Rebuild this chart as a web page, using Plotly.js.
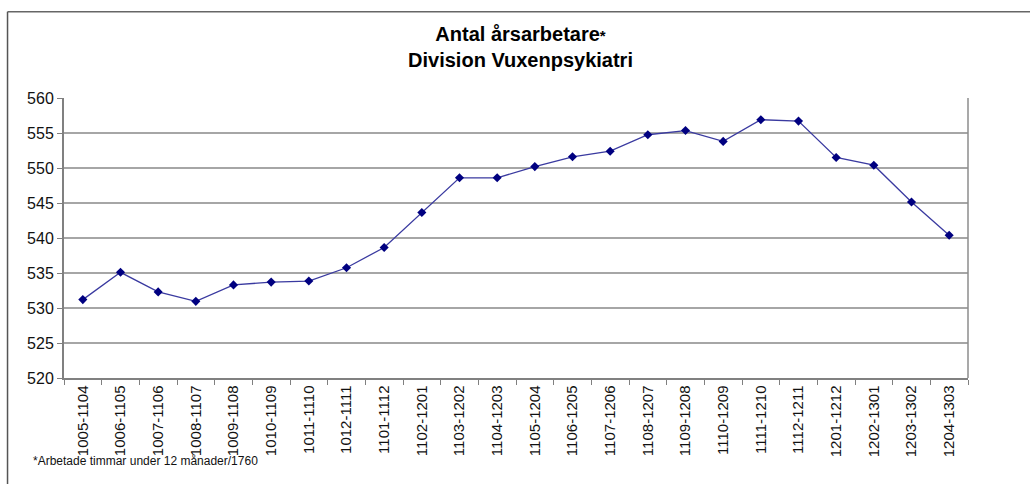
<!DOCTYPE html>
<html>
<head>
<meta charset="utf-8">
<script src="https://cdn.plot.ly/plotly-3.0.1.min.js"></script>
<style>html,body{margin:0;padding:0;background:#fff;}#chart{width:1030px;height:484px;}</style>
</head>
<body>
<div id="chart"></div>
<script>
const categories = ["1005-1104","1006-1105","1007-1106","1008-1107","1009-1108","1010-1109","1011-1110","1012-1111","1101-1112","1102-1201","1103-1202","1104-1203","1105-1204","1106-1205","1107-1206","1108-1207","1109-1208","1110-1209","1111-1210","1112-1211","1201-1212","1202-1301","1203-1302","1204-1303"];
const values = [531.2,535.1,532.3,530.95,533.3,533.7,533.85,535.75,538.65,543.65,548.6,548.6,550.2,551.6,552.4,554.75,555.35,553.8,556.9,556.7,551.5,550.4,545.15,540.4];
const yTicks = [520,525,530,535,540,545,550,555,560];
const titleText = "Antal årsarbetare<span style=\"font-size:15px\">*</span><br>Division Vuxenpsykiatri";
const footnote = "*Arbetade timmar under 12 månader/1760";

const trace = {
  x: categories, y: values, type: "scatter", mode: "lines+markers",
  line: {color: "#3a3aa0", width: 1.3},
  marker: {symbol: "diamond", size: 7, color: "#000080"},
  hoverinfo: "x+y"
};
const layout = {
  width: 1030, height: 484,
  margin: {l: 63.5, r: 62, t: 98, b: 105.5, pad: 0},
  paper_bgcolor: "#ffffff", plot_bgcolor: "#ffffff",
  font: {family: "Liberation Sans, Arial, sans-serif", color: "#111"},
  title: {text: titleText, x: 0.505, xref: "paper", xanchor: "center", y: 1 - 41/484, yref: "container", yanchor: "top",
          font: {family: "Liberation Sans, Arial, sans-serif", size: 20, color: "#000", weight: "bold"}},
  showlegend: false,
  xaxis: {
    type: "category", tickvals: categories, ticktext: categories, tickangle: -90,
    tickson: "boundaries", ticks: "outside", ticklen: 5, tickcolor: "#808080", tickwidth: 1,
    showgrid: false, showline: true, linecolor: "#808080", linewidth: 1.5, mirror: false,
    tickfont: {size: 15, color: "#111"}, range: [-0.5, categories.length - 0.5], fixedrange: true
  },
  yaxis: {
    range: [520, 560], tickvals: yTicks, ticktext: yTicks.map(String),
    ticks: "outside", ticklen: 5, tickcolor: "#808080", tickwidth: 1,
    showgrid: true, gridcolor: "#a6a6a6", gridwidth: 1.2,
    showline: true, linecolor: "#808080", linewidth: 2, zeroline: false,
    tickfont: {size: 16, color: "#111"}, fixedrange: true
  },
  shapes: [
    {type: "line", xref: "paper", yref: "paper", x0: 1, x1: 1, y0: 0, y1: 1, line: {color: "#8c8c8c", width: 1.5}},
    {type: "line", xref: "paper", yref: "paper", x0: (7-63.5)/904.5, x1: (1040-63.5)/904.5, y0: (378.5-11.5)/280.5, y1: (378.5-11.5)/280.5, line: {color: "#666", width: 1.5}},
    {type: "line", xref: "paper", yref: "paper", x0: (7-63.5)/904.5, x1: (7-63.5)/904.5, y0: (378.5-11.5)/280.5, y1: (378.5-500)/280.5, line: {color: "#555", width: 1.5}}
  ],
  annotations: [
    {text: footnote, xref: "paper", yref: "paper", x: (30-63.5)/904.5, y: (378.5-462)/280.5, xanchor: "left", yanchor: "middle",
     showarrow: false, font: {size: 12, color: "#111"}}
  ]
};
Plotly.newPlot("chart", [trace], layout, {displayModeBar: false, staticPlot: true});
</script>
</body>
</html>
